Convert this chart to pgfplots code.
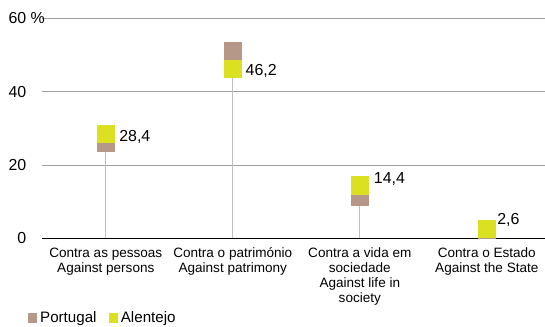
\documentclass[border=0pt]{standalone}
\usepackage{pgfplots}
\pgfplotsset{compat=1.18}
\usepackage{fontspec}
\setmainfont{Liberation Sans}
\definecolor{colP}{RGB}{181,152,135}
\definecolor{colA}{RGB}{219,224,32}
\definecolor{stemgray}{RGB}{190,190,190}
\definecolor{gridgray}{RGB}{160,160,160}
\begin{document}
\begin{tikzpicture}
\begin{axis}[
  scale only axis,
  width=502.7bp, height=220bp,
  xmin=-0.5, xmax=3.458,
  ymin=0, ymax=60,
  clip=false,
  axis line style={draw=none},
  tick style={draw=none},
  major tick length=0pt,
  xtick={0,1,2,3},
  xticklabels={{Contra as pessoas\\Against persons},{Contra o património\\Against patrimony},{Contra a vida em\\sociedade\\Against life in\\society},{Contra o Estado\\Against the State}},
  xticklabel style={align=center, anchor=north, inner sep=0pt, yshift=-9.4bp, font=\fontsize{13.6}{15}\selectfont},
  ytick={0,20,40,60},
  yticklabels={0,20,40,{60\rlap{ \%}}},
  yticklabel style={anchor=east, inner sep=0pt, xshift=-15.8bp, font=\fontsize{16}{19}\selectfont},
  ymajorgrids,
  grid style={color=gridgray, line width=0.8bp},
  legend columns=2,
  legend image code/.code={\fill (0bp,-5bp) rectangle (9bp,5bp); \path (11.7bp,0bp);},
  legend style={at={(-0.0279,-0.3623)}, anchor=west, draw=none, fill=none, inner sep=0pt,
    font=\fontsize{15.2}{18}\selectfont, nodes={inner sep=0pt},
    /tikz/every even column/.append style={column sep=12.6bp}},
]
% stems (drop lines to the lower of the two values)
\addplot[ycomb, color=stemgray, line width=1bp, mark=none, forget plot] coordinates {(0,26.0) (1,46.2) (2,11.4) (3,2.3)};
\draw[black, line width=1.3bp] (rel axis cs:0,0) -- (rel axis cs:1,0);
\addplot[only marks, color=colP, mark=square*, mark size=8.7pt, mark options={solid, draw=colP, fill=colP, line width=0pt}, forget plot] coordinates {(0,26.0) (1,51.0) (2,11.4) (3,2.3)};
\addplot[only marks, color=colA, mark=square*, mark size=8.7pt, mark options={solid, draw=colA, fill=colA, line width=0pt}, forget plot] coordinates {(0,28.4) (1,46.2) (2,14.4) (3,2.6)};
\addlegendimage{fill=colP, draw=none}
\addlegendentry{Portugal}
\addlegendimage{fill=colA, draw=none}
\addlegendentry{Alentejo}
\node[anchor=base west, inner sep=0pt, font=\fontsize{16}{19}\selectfont] at (axis cs:0.105,26.35) {28,4};
\node[anchor=base west, inner sep=0pt, font=\fontsize{16}{19}\selectfont] at (axis cs:1.1,44.34) {46,2};
\node[anchor=base west, inner sep=0pt, font=\fontsize{16}{19}\selectfont] at (axis cs:2.11,15.0) {14,4};
\node[anchor=base west, inner sep=0pt, font=\fontsize{16}{19}\selectfont] at (axis cs:3.081,3.63) {2,6};
\end{axis}
\pgfresetboundingbox
\path[use as bounding box] (-42.3bp,-88.7bp) rectangle (502.7bp,238.3bp);
\end{tikzpicture}
\end{document}
